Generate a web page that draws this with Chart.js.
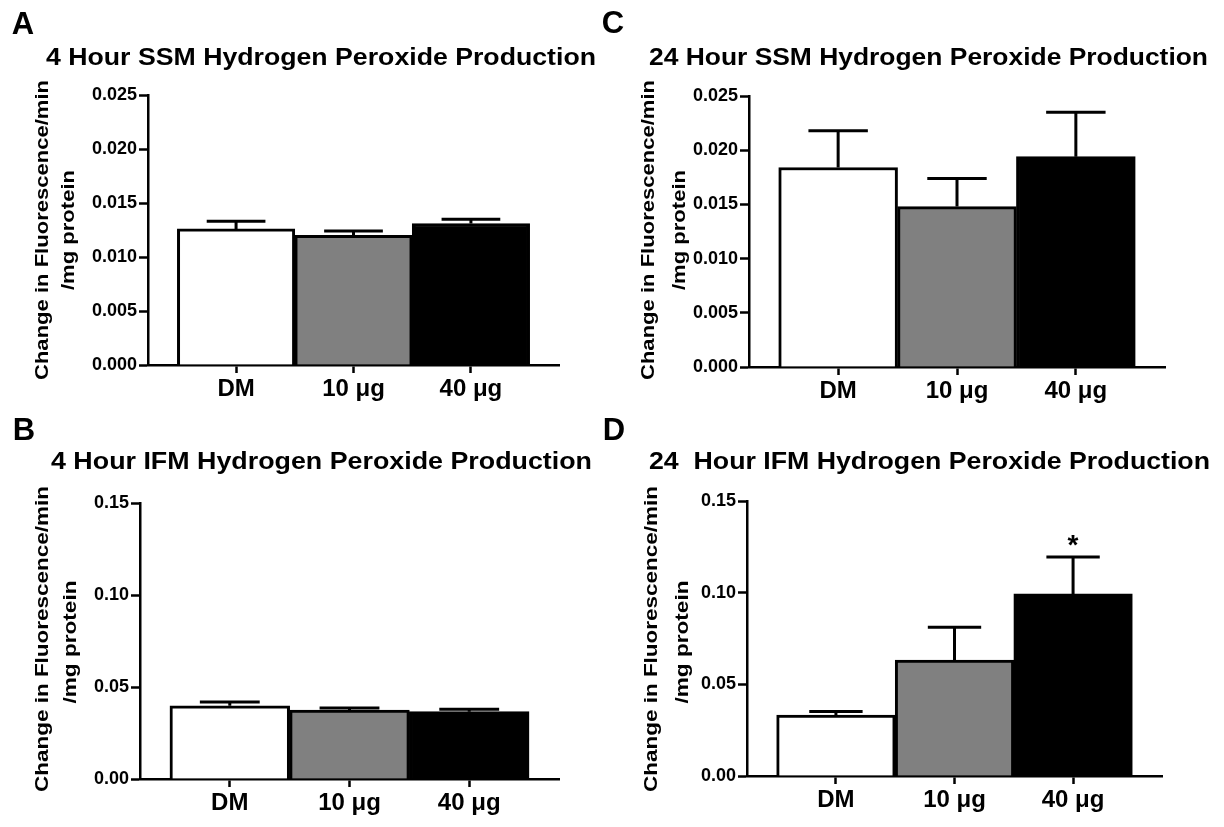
<!DOCTYPE html>
<html><head><meta charset="utf-8">
<script src="https://cdn.jsdelivr.net/npm/chart.js@4/dist/chart.umd.min.js"></script>
<style>
html,body{margin:0;padding:0;background:#fff;}
body{width:1224px;height:827px;position:relative;overflow:hidden;font-family:'Liberation Sans',Arial,sans-serif;}
.pc{position:absolute;}
.pc canvas{display:block;}
.txt{position:absolute;left:0;top:0;white-space:pre;font-weight:bold;line-height:1;color:#000;transform-origin:0 0;}
</style></head><body>
<div class="pc" style="left:0;top:0;width:612px;height:414px"><canvas id="cA" width="612" height="414"></canvas></div>
<div class="pc" style="left:0;top:414px;width:612px;height:413px"><canvas id="cB" width="612" height="413"></canvas></div>
<div class="pc" style="left:612px;top:0;width:612px;height:414px"><canvas id="cC" width="612" height="414"></canvas></div>
<div class="pc" style="left:612px;top:414px;width:612px;height:413px"><canvas id="cD" width="612" height="413"></canvas></div>
<script>
// ---------- data ----------
const categories = ['DM', '10 \u03bcg', '40 \u03bcg'];
const barColors = ['#ffffff', '#808080', '#000000'];

const ssmTicks = [0, 0.005, 0.010, 0.015, 0.020, 0.025];
const ssmTickLabels = ['0.000', '0.005', '0.010', '0.015', '0.020', '0.025'];
const ifmTicks = [0, 0.05, 0.10, 0.15];
const ifmTickLabels = ['0.00', '0.05', '0.10', '0.15'];

const ssm4hMean = [0.0126, 0.0120, 0.0131];
const ssm4hSem  = [0.0007, 0.0004, 0.0004];
const ifm4hMean = [0.0398, 0.0375, 0.0366];
const ifm4hSem  = [0.0020, 0.0011, 0.0013];
const ssm24hMean = [0.0184, 0.0148, 0.0194];
const ssm24hSem  = [0.0034, 0.0026, 0.0041];
const ifm24hMean = [0.0332, 0.0632, 0.0993];
const ifm24hSem  = [0.0020, 0.0179, 0.0201];
const ifm24hSig  = ['', '', '*'];

const panelLetters = ['A', 'B', 'C', 'D'];
const panelTitles = [
  '4 Hour SSM Hydrogen Peroxide Production',
  '4 Hour IFM Hydrogen Peroxide Production',
  '24 Hour SSM Hydrogen Peroxide Production',
  '24  Hour IFM Hydrogen Peroxide Production'
];
const yTitleLines = ['Change in Fluorescence/min', '/mg protein'];

// ---------- helpers ----------
const FONT = "'Liberation Sans', Arial, sans-serif";

function errorBarPlugin(means, sems, sig, capFrac) {
  return {
    id: 'errbars',
    afterDatasetsDraw(chart) {
      const meta = chart.getDatasetMeta(0);
      const ys = chart.scales.y;
      const ctx = chart.ctx;
      ctx.save();
      ctx.strokeStyle = '#000';
      ctx.lineWidth = 3;
      ctx.lineCap = 'butt';
      meta.data.forEach((bar, i) => {
        const top = ys.getPixelForValue(means[i]);
        const capY = ys.getPixelForValue(means[i] + sems[i]);
        const half = bar.width * capFrac / 2;
        ctx.beginPath();
        ctx.moveTo(bar.x, top);
        ctx.lineTo(bar.x, capY);
        ctx.moveTo(bar.x - half, capY);
        ctx.lineTo(bar.x + half, capY);
        ctx.stroke();
        if (sig && sig[i]) {
          ctx.fillStyle = '#000';
          ctx.font = 'bold 28px ' + FONT;
          ctx.textAlign = 'center';
          ctx.textBaseline = 'middle';
          ctx.fillText(sig[i], bar.x, capY - 11);
        }
      });
      ctx.restore();
    }
  };
}

function makePanel(id, means, sems, tickVals, tickLabels, lay, sig, capFrac) {
  const xPos = categories.map((c, i) => i + 1);
  new Chart(document.getElementById(id), {
    type: 'bar',
    data: {
      datasets: [{
        data: means.map((m, i) => ({ x: xPos[i], y: m })),
        backgroundColor: barColors,
        borderColor: '#000',
        borderWidth: 3,
        barPercentage: 1,
        categoryPercentage: 1
      }]
    },
    options: {
      responsive: false,
      animation: false,
      devicePixelRatio: 1,
      layout: { padding: { left: 0, right: lay.pr, top: lay.pt, bottom: 0 } },
      plugins: { legend: { display: false }, tooltip: { enabled: false }, title: { display: false } },
      scales: {
        x: {
          type: 'linear',
          offset: false,
          min: 0.25, max: 3.75,
          afterBuildTicks: s => { s.ticks = xPos.map(v => ({ value: v })); },
          afterFit: s => { s.height = lay.xh; },
          ticks: {
            callback: (v, i) => categories[i],
            color: '#000',
            font: { family: FONT, size: 24, weight: 'bold' },
            padding: 2, maxRotation: 0, autoSkip: false
          },
          grid: { offset: false, drawOnChartArea: false, drawTicks: true, tickLength: 8, tickWidth: 2.5, tickColor: '#000' },
          border: { display: true, color: '#000', width: 2.5 }
        },
        y: {
          min: tickVals[0], max: tickVals[tickVals.length - 1],
          afterBuildTicks: s => { s.ticks = tickVals.map(v => ({ value: v })); },
          afterFit: s => { s.width = lay.yw; },
          ticks: {
            callback: (v, i) => tickLabels[i],
            color: '#000',
            font: { family: FONT, size: 18, weight: 'bold' },
            padding: 2
          },
          grid: { drawOnChartArea: false, drawTicks: true, tickLength: 9, tickWidth: 2.5, tickColor: '#000' },
          border: { display: true, color: '#000', width: 2.5 }
        }
      }
    },
    plugins: [errorBarPlugin(means, sems, sig, capFrac)]
  });
}

makePanel('cA', ssm4hMean, ssm4hSem, ssmTicks, ssmTickLabels, { yw: 148, xh: 49, pr: 53, pt: 95 }, null, 0.5);
makePanel('cB', ifm4hMean, ifm4hSem, ifmTicks, ifmTickLabels, { yw: 140, xh: 48, pr: 53, pt: 89 }, null, 0.5);
makePanel('cC', ssm24hMean, ssm24hSem, ssmTicks, ssmTickLabels, { yw: 137, xh: 47, pr: 59, pt: 96 }, null, 0.5);
makePanel('cD', ifm24hMean, ifm24hSem, ifmTicks, ifmTickLabels, { yw: 135, xh: 51, pr: 62, pt: 87 }, ifm24hSig, 0.45);

function placeText(text, cx, cy, size, length, rot) {
  const el = document.createElement('div');
  el.className = 'txt';
  el.textContent = text;
  el.style.fontSize = size + 'px';
  document.body.appendChild(el);
  const r = el.getBoundingClientRect();
  const w = r.width, h = r.height;
  const sx = length ? length / w : 1;
  el.style.transform = `translate(${cx}px,${cy}px) rotate(${rot || 0}deg) scaleX(${sx}) translate(${-w / 2}px,${-h / 2}px)`;
}

// panel letters
placeText(panelLetters[0], 23, 23, 31);
placeText(panelLetters[1], 24, 429, 31);
placeText(panelLetters[2], 613, 22, 31);
placeText(panelLetters[3], 614, 429, 31);
// titles
placeText(panelTitles[0], 321, 57, 24, 550);
placeText(panelTitles[1], 321.5, 461, 24, 541);
placeText(panelTitles[2], 928.5, 57, 24, 559);
placeText(panelTitles[3], 929.5, 461, 24, 561);
// y-axis titles
placeText(yTitleLines[0], 41.5, 230, 18, 300, -90);
placeText(yTitleLines[1], 68, 230, 18, 120, -90);
placeText(yTitleLines[0], 42, 639, 18, 306, -90);
placeText(yTitleLines[1], 70, 642, 18, 123, -90);
placeText(yTitleLines[0], 648, 230, 18, 300, -90);
placeText(yTitleLines[1], 679, 230, 18, 120, -90);
placeText(yTitleLines[0], 651, 639, 18, 306, -90);
placeText(yTitleLines[1], 682, 642, 18, 123, -90);
</script>
</body></html>
